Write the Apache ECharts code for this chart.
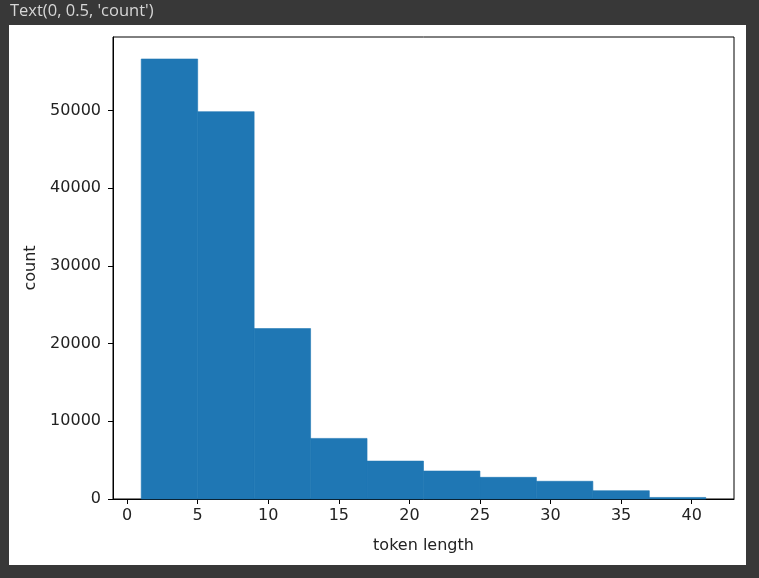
<!DOCTYPE html>
<html>
<head>
<meta charset="utf-8">
<script src="https://cdn.jsdelivr.net/npm/echarts@6/dist/echarts.min.js"></script>
<style>
html,body{margin:0;padding:0;background:#383838;}
#chart{width:759px;height:578px;}
</style>
</head>
<body>
<div id="chart"></div>
<script>
// Histogram bin edges (token length) and counts
const binEdges = [1, 5, 9, 13, 17, 21, 25, 29, 33, 37, 41];
const counts = [56650, 49870, 21940, 7800, 4880, 3600, 2790, 2280, 1070, 200];
const xTicks = [0, 5, 10, 15, 20, 25, 30, 35, 40];
const yTicks = [0, 10000, 20000, 30000, 40000, 50000];
const xLabel = 'token length';
const yLabel = 'count';
const headerText = "Text(0, 0.5, 'count')";

const bars = counts.map((c, i) => [binEdges[i], binEdges[i + 1], c]);
const xMin = -1, xMax = 43;
const yMax = Math.max(...counts) * 1.05;

const chart = echarts.init(document.getElementById('chart'), null, {renderer: 'canvas'});
const font = 'DejaVu Sans';
chart.setOption({
  backgroundColor: '#383838',
  animation: false,
  graphic: [
    {type: 'rect', z: -10, shape: {x: 9, y: 25, width: 737, height: 540}, style: {fill: '#ffffff'}},
    {type: 'text', left: 10, top: 3, style: {text: headerText, fill: '#d6d6d6', font: '16.5px "Open Sans", "Noto Sans", sans-serif'}}
  ],
  grid: {left: 113, top: 37, width: 621, height: 462, show: true, borderColor: '#000', borderWidth: 1, backgroundColor: '#fff'},
  xAxis: {
    type: 'value', min: xMin, max: xMax,
    name: xLabel, nameLocation: 'middle', nameGap: 39,
    nameTextStyle: {fontFamily: font, fontSize: 16, color: '#222'},
    axisLine: {show: true, onZero: false, lineStyle: {color: '#000', width: 1}},
    axisTick: {show: true, length: 5, customValues: xTicks, lineStyle: {color: '#000'}},
    axisLabel: {customValues: xTicks, fontFamily: font, fontSize: 16, color: '#222', margin: 9},
    splitLine: {show: false}
  },
  yAxis: {
    type: 'value', min: 0, max: yMax,
    name: yLabel, nameLocation: 'middle', nameGap: 69,
    nameTextStyle: {fontFamily: font, fontSize: 16, color: '#222'},
    axisLine: {show: true, onZero: false, lineStyle: {color: '#000', width: 1}},
    axisTick: {show: true, length: 5, customValues: yTicks, lineStyle: {color: '#000'}},
    axisLabel: {customValues: yTicks, formatter: v => String(v), fontFamily: font, fontSize: 16, color: '#222', margin: 12},
    splitLine: {show: false}
  },
  series: [{
    type: 'custom',
    data: bars,
    encode: {x: [0, 1], y: 2},
    renderItem: function (params, api) {
      const p0 = api.coord([api.value(0), api.value(2)]);
      const p1 = api.coord([api.value(1), 0]);
      return {
        type: 'rect',
        shape: {x: p0[0], y: p0[1], width: p1[0] - p0[0], height: p1[1] - p0[1]},
        style: {fill: '#1f77b4', stroke: '#1f77b4', lineWidth: 0.6}
      };
    }
  }]
});
</script>
</body>
</html>
